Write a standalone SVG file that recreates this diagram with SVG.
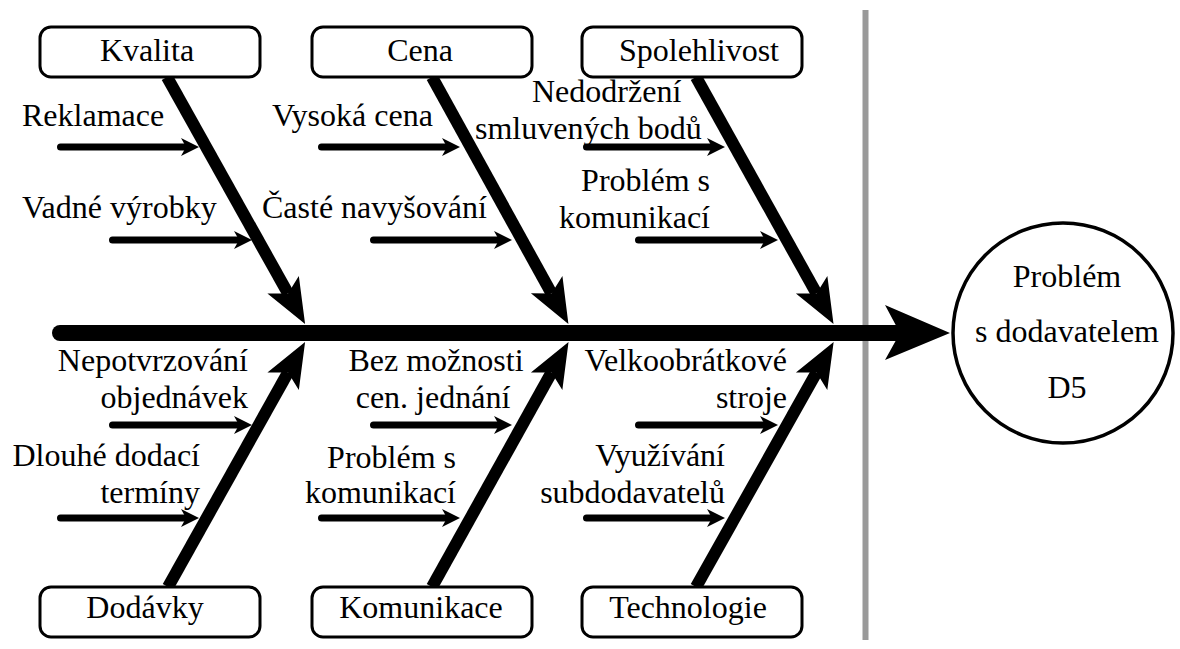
<svg xmlns="http://www.w3.org/2000/svg" width="1180" height="649" viewBox="0 0 1180 649">
<style>
text{font-family:"Liberation Serif","Times New Roman",serif;font-size:32px;fill:#000}
.box{fill:#fff;stroke:#000;stroke-width:3}
.bone{stroke:#000;stroke-width:12;fill:none;marker-end:url(#bh)}
.sub{stroke:#000;stroke-width:7;fill:none;stroke-linecap:round;marker-end:url(#sh)}
.mid{text-anchor:middle}
.end{text-anchor:end}
</style>
<defs>
<marker id="bh" markerUnits="userSpaceOnUse" orient="auto" markerWidth="60" markerHeight="40" viewBox="-12 -20 60 40" refX="0" refY="0" overflow="visible">
<path d="M-10,-18 L35,0 L-10,18 L0,0 Z" fill="#000"/>
</marker>
<marker id="sh" markerUnits="userSpaceOnUse" orient="auto" markerWidth="24" markerHeight="20" viewBox="-6 -10 24 20" refX="0" refY="0" overflow="visible">
<path d="M-5,-9 L13,0 L-5,9 L0,0 Z" fill="#000"/>
</marker>
<marker id="mh" markerUnits="userSpaceOnUse" orient="auto" markerWidth="70" markerHeight="60" viewBox="-16 -30 70 60" refX="0" refY="0" overflow="visible">
<path d="M-15,-28 L50,0 L-15,27 L0,0 Z" fill="#000"/>
</marker>
</defs>
<line x1="865.5" y1="10" x2="865.5" y2="640" stroke="#9a9a9a" stroke-width="6"/>
<g id="connectors">
<line x1="60" y1="333" x2="900" y2="333" stroke="#000" stroke-width="16" stroke-linecap="round" marker-end="url(#mh)"/>
<line class="bone" x1="167" y1="77" x2="288" y2="293.4"/>
<line class="bone" x1="432" y1="77" x2="551.5" y2="293.4"/>
<line class="bone" x1="696" y1="77" x2="816.5" y2="293.4"/>
<line class="bone" x1="168" y1="587" x2="288" y2="372.5"/>
<line class="bone" x1="432" y1="587" x2="551.5" y2="372.5"/>
<line class="bone" x1="696" y1="587" x2="816.5" y2="372.5"/>
<line class="sub" x1="60.5" y1="147" x2="186" y2="147"/>
<line class="sub" x1="112.5" y1="240" x2="239" y2="240"/>
<line class="sub" x1="321.5" y1="147" x2="447" y2="147"/>
<line class="sub" x1="373.5" y1="240" x2="499" y2="240"/>
<line class="sub" x1="586.5" y1="147" x2="712" y2="147"/>
<line class="sub" x1="638.5" y1="240" x2="765" y2="240"/>
<line class="sub" x1="112.5" y1="425" x2="239" y2="425"/>
<line class="sub" x1="60.5" y1="518" x2="186" y2="518"/>
<line class="sub" x1="373.5" y1="425" x2="499" y2="425"/>
<line class="sub" x1="321.5" y1="518" x2="447" y2="518"/>
<line class="sub" x1="638.5" y1="425" x2="765" y2="425"/>
<line class="sub" x1="586.5" y1="518" x2="712" y2="518"/>
</g>
<g id="kvalita"><rect class="box" x="40" y="27" width="220" height="50" rx="11"/><text class="mid" x="147" y="61">Kvalita</text></g>
<g id="cena"><rect class="box" x="312" y="27" width="220" height="50" rx="11"/><text class="mid" x="420" y="61">Cena</text></g>
<g id="spolehlivost"><rect class="box" x="582" y="27" width="220" height="50" rx="11"/><text class="mid" x="699" y="61">Spolehlivost</text></g>
<g id="dodavky"><rect class="box" x="40" y="587" width="220" height="50" rx="11"/><text class="mid" x="145" y="618">Dodávky</text></g>
<g id="komunikace"><rect class="box" x="312" y="587" width="220" height="50" rx="11"/><text class="mid" x="421" y="618">Komunikace</text></g>
<g id="technologie"><rect class="box" x="582" y="587" width="220" height="50" rx="11"/><text class="mid" x="688" y="618">Technologie</text></g>
<g id="problem"><circle cx="1063" cy="333" r="110" fill="#fff" stroke="#000" stroke-width="3.5"/>
<text class="mid" x="1067" y="287">Problém</text>
<text class="mid" x="1067" y="342">s dodavatelem</text>
<text class="mid" x="1067" y="398">D5</text></g>
<g id="labels">
<text x="22" y="126">Reklamace</text>
<text x="22" y="218">Vadné výrobky</text>
<text x="272" y="126">Vysoká cena</text>
<text x="262" y="218">Časté navyšování</text>
<text x="532" y="102">Nedodržení</text>
<text x="475" y="139">smluvených bodů</text>
<text class="end" x="710" y="191">Problém s</text>
<text class="end" x="710" y="228">komunikací</text>
<text class="end" x="248" y="371">Nepotvrzování</text>
<text class="end" x="248" y="408">objednávek</text>
<text class="end" x="200" y="466">Dlouhé dodací</text>
<text class="end" x="200" y="503">termíny</text>
<text class="mid" x="436" y="371">Bez možnosti</text>
<text class="mid" x="433" y="408">cen. jednání</text>
<text class="end" x="456" y="468">Problém s</text>
<text class="end" x="456" y="503">komunikací</text>
<text class="end" x="787" y="371">Velkoobrátkové</text>
<text class="end" x="787" y="408">stroje</text>
<text class="end" x="725" y="466">Využívání</text>
<text class="end" x="725" y="503">subdodavatelů</text>
</g>
</svg>
